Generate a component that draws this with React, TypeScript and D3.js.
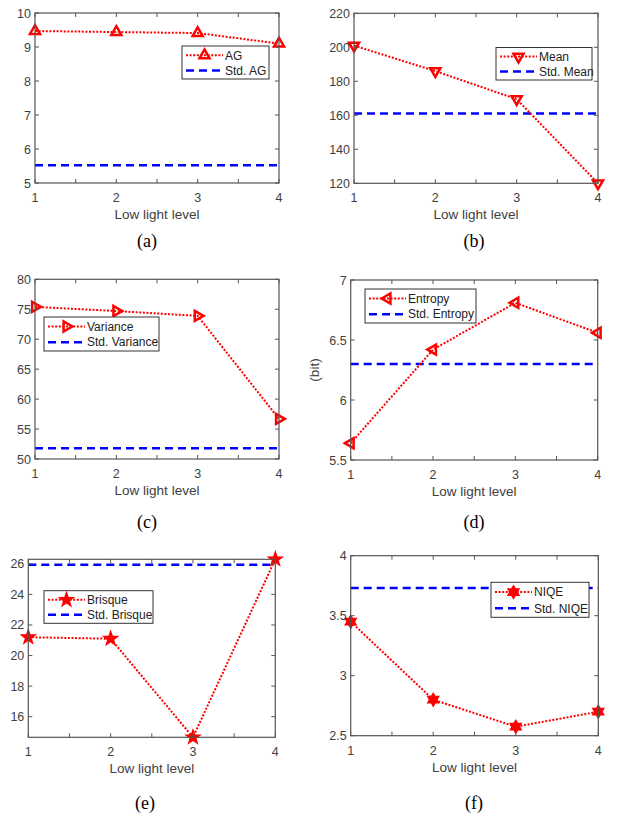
import React from "react";
import * as d3 from "d3";

// ---- data ----
const levels = [1, 2, 3, 4];
const xTicks = [1, 1.5, 2, 2.5, 3, 3.5, 4];
const xTickLabels = [1, 2, 3, 4];

const agValues = [9.47, 9.44, 9.41, 9.1];
const agStd = 5.52;
const agTicks = [5, 6, 7, 8, 9, 10];

const meanValues = [201, 186, 169.5, 120];
const meanStd = 161;
const meanTicks = [120, 140, 160, 180, 200, 220];

const varianceValues = [75.4, 74.7, 73.9, 56.7];
const varianceStd = 51.8;
const varianceTicks = [50, 55, 60, 65, 70, 75, 80];

const entropyValues = [5.64, 6.42, 6.81, 6.56];
const entropyStd = 6.3;
const entropyTicks = [5.5, 6, 6.5, 7];

const brisqueValues = [21.2, 21.1, 14.65, 26.3];
const brisqueStd = 25.95;
const brisqueTicks = [16, 18, 20, 22, 24, 26];

const niqeValues = [3.45, 2.8, 2.575, 2.7];
const niqeStd = 3.73;
const niqeTicks = [2.5, 3, 3.5, 4];

const FONT = "'Liberation Sans', Arial, sans-serif";
const SERIF = "'Liberation Serif', 'Times New Roman', serif";
const AX = "#555";
const TXT = "#404040";

type MarkerType = "up" | "down" | "right" | "left" | "pentagram" | "hexagram";

function starPath(n: number, ro: number, ri: number, rot = -Math.PI / 2) {
  const pts: [number, number][] = [];
  for (let i = 0; i < n * 2; i++) {
    const r = i % 2 === 0 ? ro : ri;
    const a = rot + (i * Math.PI) / n;
    pts.push([r * Math.cos(a), r * Math.sin(a)]);
  }
  return "M" + pts.map((p) => p[0].toFixed(2) + "," + p[1].toFixed(2)).join("L") + "Z";
}

function markerPath(t: MarkerType) {
  const r = 5.8;
  const tri = (ang: number) => {
    const pts = [0, 1, 2].map((i) => {
      const a = ang + (i * 2 * Math.PI) / 3;
      return [r * Math.cos(a), r * Math.sin(a)];
    });
    return "M" + pts.map((p) => p[0].toFixed(2) + "," + p[1].toFixed(2)).join("L") + "Z";
  };
  switch (t) {
    case "up":
      return tri(-Math.PI / 2);
    case "down":
      return tri(Math.PI / 2);
    case "right":
      return tri(0);
    case "left":
      return tri(Math.PI);
    case "pentagram":
      return starPath(5, 7.5, 3.0);
    case "hexagram":
      return starPath(6, 6.5, 3.8);
  }
}

function Marker({ x, y, type }: { x: number; y: number; type: MarkerType }) {
  const filledStar = type === "pentagram" || type === "hexagram";
  return (
    <path
      d={markerPath(type)}
      transform={`translate(${x},${y})`}
      fill={filledStar ? "#ff0000" : "none"}
      stroke="#ff0000"
      strokeWidth={filledStar ? 1.2 : 2.5}
      strokeLinejoin="miter"
    />
  );
}

interface PanelProps {
  box: { l: number; r: number; t: number; b: number };
  yDomain: [number, number];
  yTicks: number[];
  values: number[];
  std: number;
  marker: MarkerType;
  name: string;
  legend: { x0: number; x1: number; y0: number; y1: number };
  caption: string;
  captionX: number;
  captionY: number;
  ylabel?: string;
}

function Panel(p: PanelProps) {
  const { box } = p;
  const x = d3.scaleLinear().domain([1, 4]).range([box.l, box.r]);
  const y = d3.scaleLinear().domain(p.yDomain).range([box.b, box.t]);
  const line = d3
    .line<number>()
    .x((_, i) => x(levels[i]))
    .y((d) => y(d));
  const tl = 4;
  const lg = p.legend;
  const row1 = lg.y0 + (lg.y1 - lg.y0) * 0.28;
  const row2 = lg.y0 + (lg.y1 - lg.y0) * 0.74;
  const sx0 = lg.x0 + 4;
  const sx1 = lg.x0 + 41;
  return (
    <g>
      {/* std line */}
      <line
        x1={box.l}
        x2={box.r}
        y1={y(p.std)}
        y2={y(p.std)}
        stroke="#0000ff"
        strokeWidth={2.5}
        strokeDasharray="8 5"
      />
      {/* data line */}
      <path
        d={line(p.values) || ""}
        fill="none"
        stroke="#ff0000"
        strokeWidth={2}
        strokeDasharray="2 1.6"
      />
      {p.values.map((v, i) => (
        <Marker key={i} x={x(levels[i])} y={y(v)} type={p.marker} />
      ))}
      {/* axes box */}
      <rect
        x={box.l}
        y={box.t}
        width={box.r - box.l}
        height={box.b - box.t}
        fill="none"
        stroke={AX}
        strokeWidth={1.2}
      />
      {xTicks.map((t) => (
        <g key={"xt" + t}>
          <line x1={x(t)} x2={x(t)} y1={box.b} y2={box.b - tl} stroke={AX} />
          <line x1={x(t)} x2={x(t)} y1={box.t} y2={box.t + tl} stroke={AX} />
        </g>
      ))}
      {p.yTicks.map((t) => (
        <g key={"yt" + t}>
          <line x1={box.l} x2={box.l + tl} y1={y(t)} y2={y(t)} stroke={AX} />
          <line x1={box.r} x2={box.r - tl} y1={y(t)} y2={y(t)} stroke={AX} />
          <text
            x={box.l - 4}
            y={y(t) + 4.5}
            textAnchor="end"
            fontFamily={FONT}
            fontSize={12.5}
            fill={TXT}
          >
            {String(t)}
          </text>
        </g>
      ))}
      {xTickLabels.map((t) => (
        <text
          key={"xl" + t}
          x={x(t)}
          y={box.b + 19}
          textAnchor="middle"
          fontFamily={FONT}
          fontSize={12.5}
          fill={TXT}
        >
          {String(t)}
        </text>
      ))}
      <text
        x={(box.l + box.r) / 2}
        y={box.b + 36}
        textAnchor="middle"
        fontFamily={FONT}
        fontSize={13.5}
        fill={TXT}
      >
        Low light level
      </text>
      {p.ylabel && (
        <text
          transform={`translate(${box.l - 32},${(box.t + box.b) / 2}) rotate(-90)`}
          textAnchor="middle"
          fontFamily={FONT}
          fontSize={13.5}
          fill={TXT}
        >
          {p.ylabel}
        </text>
      )}
      {/* legend */}
      <rect
        x={lg.x0}
        y={lg.y0}
        width={lg.x1 - lg.x0}
        height={lg.y1 - lg.y0}
        fill="#fff"
        stroke="#333"
        strokeWidth={1}
      />
      <line
        x1={sx0}
        x2={sx1}
        y1={row1}
        y2={row1}
        stroke="#ff0000"
        strokeWidth={2}
        strokeDasharray="2 1.6"
      />
      <Marker x={(sx0 + sx1) / 2} y={row1} type={p.marker} />
      <line
        x1={sx0}
        x2={sx1}
        y1={row2}
        y2={row2}
        stroke="#0000ff"
        strokeWidth={2.5}
        strokeDasharray="8 5"
      />
      <text x={sx1 + 2} y={row1 + 4.3} fontFamily={FONT} fontSize={12} fill="#222">
        {p.name}
      </text>
      <text x={sx1 + 2} y={row2 + 4.3} fontFamily={FONT} fontSize={12} fill="#222">
        {"Std. " + p.name}
      </text>
      <text
        x={p.captionX}
        y={p.captionY}
        textAnchor="middle"
        fontFamily={SERIF}
        fontSize={18}
        fill="#000"
      >
        {p.caption}
      </text>
    </g>
  );
}

export default function App() {
  return (
    <svg
      width={618}
      height={827}
      style={{ position: "absolute", left: 0, top: 0, background: "#fff" }}
    >
      <rect x={0} y={0} width={618} height={827} fill="#fff" />
      <Panel
        box={{ l: 35, r: 279, t: 13, b: 183 }}
        yDomain={[5, 10]}
        yTicks={agTicks}
        values={agValues}
        std={agStd}
        marker="up"
        name="AG"
        legend={{ x0: 182, x1: 269, y0: 46, y1: 79 }}
        caption="(a)"
        captionX={147}
        captionY={247}
      />
      <Panel
        box={{ l: 354, r: 598, t: 13.3, b: 183.3 }}
        yDomain={[120, 220]}
        yTicks={meanTicks}
        values={meanValues}
        std={meanStd}
        marker="down"
        name="Mean"
        legend={{ x0: 496, x1: 592, y0: 47.5, y1: 80 }}
        caption="(b)"
        captionX={474}
        captionY={247}
      />
      <Panel
        box={{ l: 35, r: 279, t: 279.3, b: 459 }}
        yDomain={[50, 80]}
        yTicks={varianceTicks}
        values={varianceValues}
        std={varianceStd}
        marker="right"
        name="Variance"
        legend={{ x0: 44, x1: 159, y0: 317, y1: 351 }}
        caption="(c)"
        captionX={147}
        captionY={528}
      />
      <Panel
        box={{ l: 350.7, r: 597.7, t: 280, b: 460 }}
        yDomain={[5.5, 7]}
        yTicks={entropyTicks}
        values={entropyValues}
        std={entropyStd}
        marker="left"
        name="Entropy"
        legend={{ x0: 365, x1: 476, y0: 289, y1: 323 }}
        caption="(d)"
        captionX={474}
        captionY={528}
        ylabel="(bit)"
      />
      <Panel
        box={{ l: 28.3, r: 275.3, t: 559.3, b: 737.3 }}
        yDomain={[14.65, 26.3]}
        yTicks={brisqueTicks}
        values={brisqueValues}
        std={brisqueStd}
        marker="pentagram"
        name="Brisque"
        legend={{ x0: 44, x1: 153, y0: 590.7, y1: 623.3 }}
        caption="(e)"
        captionX={145}
        captionY={809}
      />
      <Panel
        box={{ l: 350.7, r: 598.3, t: 555.7, b: 735.7 }}
        yDomain={[2.5, 4]}
        yTicks={niqeTicks}
        values={niqeValues}
        std={niqeStd}
        marker="hexagram"
        name="NIQE"
        legend={{ x0: 491, x1: 589, y0: 582.3, y1: 617.3 }}
        caption="(f)"
        captionX={474}
        captionY={809}
      />
    </svg>
  );
}
